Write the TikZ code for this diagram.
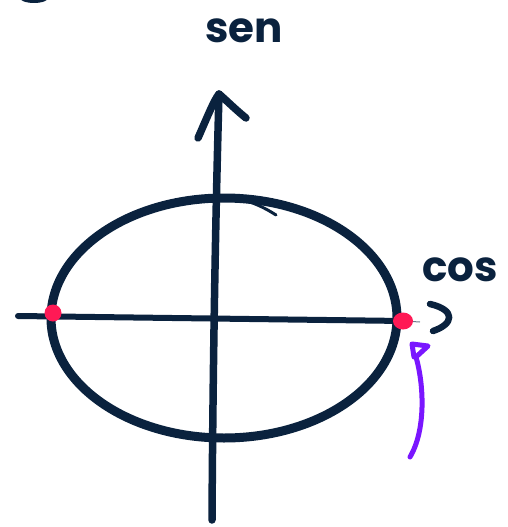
\documentclass[tikz,border=0pt]{standalone}
\usepackage{fontspec}
\setmainfont{Poppins}
\definecolor{ink}{RGB}{10,34,62}
\definecolor{dot}{RGB}{255,25,85}
\definecolor{purp}{RGB}{122,22,255}
\begin{document}
\begin{tikzpicture}[x=1pt,y=-1pt,
  inkline/.style={draw=ink,line cap=round,line join=round},
  hand/.style={text=ink,font=\bfseries\fontsize{42}{42}\selectfont,inner sep=0pt},
  reddot/.style={fill=dot}]
\useasboundingbox (0,0) rectangle (507,527);
\begin{scope}
\clip (0,0) rectangle (507,527);
\fill[ink] (34,-3) ellipse [x radius=15, y radius=6];
\end{scope}
% axes coordinates
\coordinate (vb) at (212,520);
\coordinate (vt) at (219,94);
\coordinate (al) at (198,138);
\coordinate (ar) at (246,118);
\coordinate (hl) at (18,316);
\coordinate (hr) at (404,321);
\coordinate (hx) at (420,322);
% ellipse
\draw[inkline,line width=9pt] (224,318) ellipse [x radius=173, y radius=120];
\draw[inkline,line width=3pt] (224,197) .. controls (245,198) and (262,206) .. (276,215);
% horizontal axis
\draw[inkline,line width=6pt] (hl) -- (hr);
\draw[draw=ink!60,line width=1pt] (hr) -- (hx);
% vertical axis
\draw[inkline,line width=7.5pt] (vb) .. controls (213,350) and (216,200) .. (vt);
\draw[inkline,line width=7.5pt] (al) .. controls (206,120) and (214,100) .. (vt) .. controls (226,100) and (236,110) .. (ar);
% dots
\fill[reddot] (53,313) circle (8.5);
\fill[reddot] (403,321) ellipse [x radius=10, y radius=8.5];
% labels
\node[hand] (sen) at (244,31) {sen};
\node[hand] (cos) at (460,270) {cos};
\draw[inkline,line width=6.5pt] (430,304) .. controls (456,310) and (454,324) .. (433,331);
% purple
\draw[draw=purp,line width=5pt,line cap=round,line join=round]
  (414,357) -- (412,344) -- (428,346) -- (416,357)
  .. controls (424,385) and (426,430) .. (410,457);
\end{tikzpicture}
\end{document}
